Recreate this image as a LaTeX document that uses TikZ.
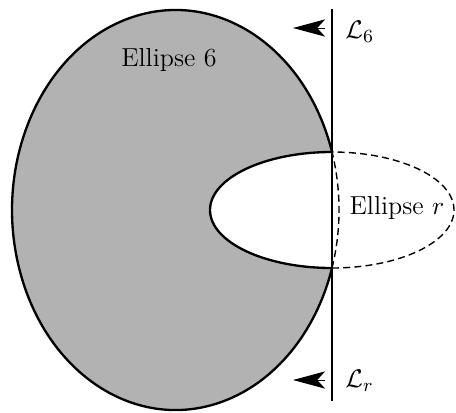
\documentclass[tikz,border=0pt]{standalone}
\usepackage{amsmath}
\usetikzlibrary{arrows.meta}
\begin{document}
\begin{tikzpicture}[x=0.43pt,y=0.43pt,font=\fontsize{11.2pt}{13pt}\selectfont]
			% Styles (MODIFIABLES)
			\tikzstyle{contour}=[line width=1pt]
			\tikzstyle{pointille}=[line width=0.6pt,dash pattern=on 3pt off 1.8pt]
			\tikzstyle{droite}=[line width=1.2pt]
			\tikzstyle{fleche}=[-{Stealth[length=13.8pt,width=7.4pt,inset=3.4pt]},line width=0.4pt]
			\tikzstyle{etiquette}=[anchor=west,inner sep=0pt]
			\colorlet{gris}{black!30}
			% Dimensions (MODIFIABLES)
			\def\RxSix{163.5}
			\def\RySix{200}
			\def\RxR{122}
			\def\RyR{58}
			\def\Angle{16.86}
			\useasboundingbox (0,0) rectangle (456,412);
			% Points
			\coordinate (C6) at (175.5,202);
			\coordinate (Cr) at (332,202);
			\coordinate (Haut) at (332,260);
			\coordinate (Bas) at (332,144);
			\coordinate (Dh) at (332,403);
			\coordinate (Db) at (332,11);
			\coordinate (F6a) at (325,384);
			\coordinate (F6b) at (293,384);
			\coordinate (Fra) at (325,32);
			\coordinate (Frb) at (293,32);
			% Remplissage
			\begin{scope}
				\clip (0,0) rectangle (332,412);
				\fill[gris] (C6) ellipse[x radius=\RxSix,y radius=\RySix];
			\end{scope}
			\fill[white] (Cr) ellipse[x radius=\RxR,y radius=\RyR];
			% Contours
			\draw[contour] (Haut) arc[start angle=\Angle,end angle=360-\Angle,x radius=\RxSix,y radius=\RySix];
			\draw[pointille] (Bas) arc[start angle=-\Angle,end angle=\Angle,x radius=\RxSix,y radius=\RySix];
			\draw[contour] (Haut) arc[start angle=90,end angle=270,x radius=\RxR,y radius=\RyR];
			\draw[pointille] (Bas) arc[start angle=-90,end angle=90,x radius=\RxR,y radius=\RyR];
			% Droite et fleches
			\draw[droite] (Dh) -- (Db);
			\draw[fleche] (F6a) -- (F6b);
			\draw[fleche] (Fra) -- (Frb);
			% Etiquettes
			\node[etiquette] (L6) at (345,380) {$\mathcal{L}_6$};
			\node[etiquette] (Lr) at (345,31) {$\mathcal{L}_r$};
			\node (E6) at (169,352) {Ellipse 6};
			\node (Er) at (397,204) {Ellipse $r$};
		\end{tikzpicture}
\end{document}
